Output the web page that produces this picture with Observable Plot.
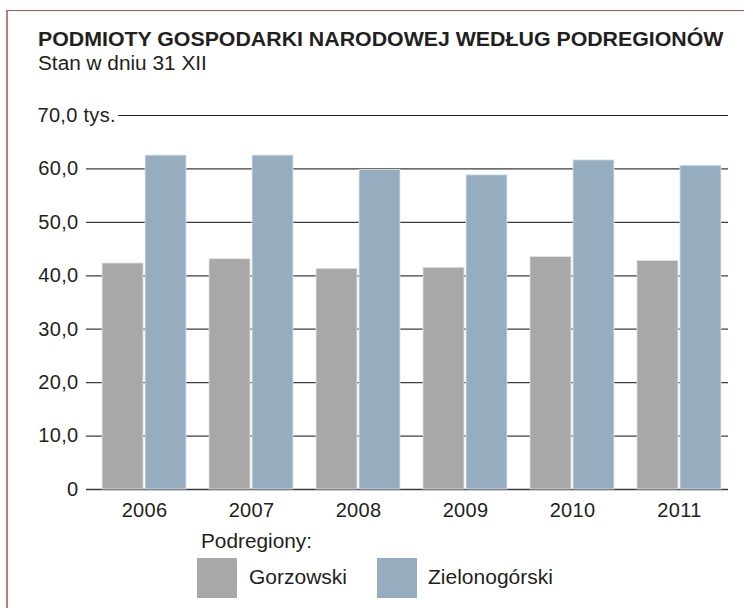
<!DOCTYPE html>
<html>
<head>
<meta charset="utf-8">
<script src="https://cdn.jsdelivr.net/npm/d3@7"></script>
<script src="https://cdn.jsdelivr.net/npm/@observablehq/plot@0.6"></script>
<style>
  html, body { margin: 0; padding: 0; background: #fff; }
  body { width: 744px; height: 608px; position: relative; overflow: hidden;
         font-family: "Liberation Sans", Arial, Helvetica, sans-serif; color: #231f20; }
  .frame { position: absolute; left: 6px; top: 10px; right: -5px; bottom: -5px;
           border-left: 2px solid #c27b79; border-top: 1px solid #c4504e; }
  .t { position: absolute; white-space: nowrap; transform-origin: left center; }
  #title { left: 38px; top: 29.1px; font-size: 20px; line-height: 20px; font-weight: bold; transform: scaleX(1.066); }
  #subtitle { left: 38px; top: 53.1px; font-size: 20px; line-height: 20px; transform: scaleX(1.04); }
  #chart { position: absolute; left: 0; top: 95px; }
  #legTitle { left: 201px; top: 531.4px; font-size: 20px; line-height: 20px; transform: scaleX(1.04); }
  .sw { position: absolute; width: 40px; height: 40px; top: 558px; }
  .lab { top: 567.1px; font-size: 20px; line-height: 20px; transform: scaleX(1.05); }
</style>
</head>
<body>
<div class="frame"></div>
<div id="title" class="t">PODMIOTY GOSPODARKI NARODOWEJ WEDŁUG PODREGIONÓW</div>
<div id="subtitle" class="t">Stan w dniu 31 XII</div>
<div id="chart"></div>
<div id="legend"></div>
<script>
// ---- data ----
const years = ["2006", "2007", "2008", "2009", "2010", "2011"];
const series = ["Gorzowski", "Zielonogórski"];
const gorzowski = [42.3, 43.1, 41.3, 41.5, 43.5, 42.8];
const zielonogorski = [62.5, 62.5, 59.8, 58.8, 61.6, 60.6];
const colors = ["#a8a8a8", "#96acbf"];
const yTicks = [0, 10, 20, 30, 40, 50, 60];
const yTop = 70;
const legendTitle = "Podregiony:";
const topLabel = "70,0 tys.";

const rowsG = years.map((y, i) => ({year: y, value: gorzowski[i]}));
const rowsZ = years.map((y, i) => ({year: y, value: zielonogorski[i]}));

const W = 744, H = 430;
const mL = 86, mR = 7, mT = 20, mB = 36;
const padIn = 0.215, padOut = 0.15;
const bw = d3.scaleBand(years, [mL, W - mR]).paddingInner(padIn).paddingOuter(padOut).bandwidth();
const fmt = d => d === 0 ? "0" : d.toFixed(1).replace(".", ",");

const chart = Plot.plot({
  width: W, height: H,
  marginLeft: mL, marginRight: mR, marginTop: mT, marginBottom: mB,
  style: {fontFamily: '"Liberation Sans", Arial, sans-serif', fontSize: "20px", color: "#231f20", background: "transparent", letterSpacing: "0.3px"},
  x: {domain: years, paddingInner: padIn, paddingOuter: padOut, round: false},
  y: {domain: [0, yTop]},
  marks: [
    Plot.ruleY(yTicks, {stroke: "#3c3c3c", strokeWidth: 1.3, insetRight: 9}),
    Plot.ruleY([yTop], {stroke: "#222", strokeWidth: 1.2, insetLeft: 32, insetRight: 9}),
    Plot.barY(rowsG, {x: "year", y: "value", fill: colors[0], stroke: "#e2e2e2", strokeWidth: 0.8, insetRight: bw / 2 + 1}),
    Plot.barY(rowsZ, {x: "year", y: "value", fill: colors[1], stroke: "#dfe6ec", strokeWidth: 0.8, insetLeft: bw / 2 + 1}),
    Plot.axisY({ticks: yTicks, tickFormat: fmt, tickSize: 0, tickPadding: 8, label: null, fontSize: "20px"}),
    Plot.text([yTop], {y: d => d, frameAnchor: "left", dx: 37 - mL, textAnchor: "start", text: () => topLabel, fontSize: "20px", fill: "#231f20"}),
    Plot.axisX({tickSize: 0, tickPadding: 13, label: null, fontSize: "20px"})
  ]
});
document.getElementById("chart").appendChild(chart);

// ---- legend ----
const leg = document.getElementById("legend");
const lt = document.createElement("div");
lt.className = "t"; lt.id = "legTitle"; lt.textContent = legendTitle;
leg.appendChild(lt);
const swX = [197, 377], labX = [249, 428];
series.forEach((s, i) => {
  const sw = document.createElement("div");
  sw.className = "sw"; sw.style.left = swX[i] + "px"; sw.style.background = colors[i];
  leg.appendChild(sw);
  const l = document.createElement("div");
  l.className = "t lab"; l.style.left = labX[i] + "px"; l.textContent = s;
  leg.appendChild(l);
});
</script>
</body>
</html>
